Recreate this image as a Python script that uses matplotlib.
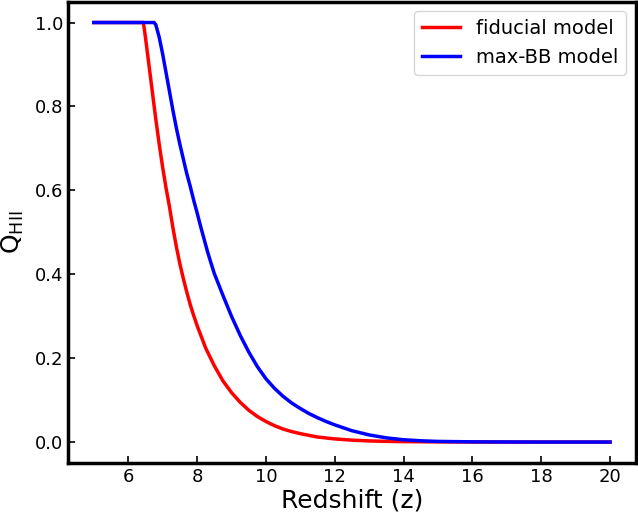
import matplotlib
matplotlib.use("Agg")
import matplotlib.pyplot as plt

# Ionized fraction Q_HII vs redshift for two reionization models
z_fid = [5.0, 6.0, 6.44, 6.5, 6.6, 6.7, 6.8, 6.9, 7.0, 7.1, 7.2, 7.3, 7.4,
         7.5, 7.6, 7.7, 7.8, 7.9, 8.0, 8.25, 8.5, 8.75, 9.0, 9.25, 9.5,
         9.75, 10.0, 10.25, 10.5, 10.75, 11.0, 11.5, 12.0, 12.5, 13.0, 13.5,
         14.0, 15.0, 16.0, 17.0, 20.0]
q_fid = [1.0, 1.0, 1.0, 0.965, 0.90, 0.835, 0.77, 0.71, 0.655, 0.605, 0.56,
         0.51, 0.465, 0.425, 0.39, 0.358, 0.328, 0.302, 0.278, 0.224, 0.182,
         0.146, 0.118, 0.095, 0.076, 0.061, 0.049, 0.039, 0.031, 0.025,
         0.020, 0.012, 0.0075, 0.0045, 0.0027, 0.0016, 0.001, 0.0004, 0.0001,
         0.0, 0.0]

z_maxbb = [5.0, 6.0, 6.75, 6.8, 6.9, 7.0, 7.1, 7.2, 7.3, 7.4, 7.5, 7.6, 7.7,
           7.8, 7.9, 8.0, 8.1, 8.2, 8.3, 8.4, 8.5, 8.75, 9.0, 9.25, 9.5,
           9.75, 10.0, 10.25, 10.5, 10.75, 11.0, 11.25, 11.5, 11.75, 12.0,
           12.25, 12.5, 13.0, 13.5, 14.0, 14.5, 15.0, 16.0, 17.0, 18.0, 20.0]
q_maxbb = [1.0, 1.0, 1.0, 0.995, 0.965, 0.925, 0.88, 0.835, 0.79, 0.748,
           0.71, 0.675, 0.64, 0.61, 0.577, 0.547, 0.515, 0.485, 0.455, 0.428,
           0.402, 0.35, 0.30, 0.255, 0.215, 0.18, 0.151, 0.128, 0.109, 0.093,
           0.080, 0.068, 0.058, 0.049, 0.041, 0.034, 0.027, 0.017, 0.010,
           0.0055, 0.003, 0.0015, 0.0005, 0.0002, 0.0, 0.0]

fig = plt.figure(figsize=(6.38, 5.17), dpi=100)
ax = fig.add_axes([0.1066, 0.1044, 0.89, 0.8926])

ax.plot(z_fid, q_fid, color="red", lw=2.5, label="fiducial model")
ax.plot(z_maxbb, q_maxbb, color="blue", lw=2.5, label="max-BB model")

ax.set_xlabel("Redshift (z)", fontsize=18, labelpad=2)
ax.set_ylabel(r"$\rm Q_{HII}$", fontsize=18, labelpad=6)

ax.set_xticks([6, 8, 10, 12, 14, 16, 18, 20])
ax.set_yticks([0.0, 0.2, 0.4, 0.6, 0.8, 1.0])
ax.tick_params(direction="in", labelsize=13, length=5, width=1.2)
for s in ax.spines.values():
    s.set_linewidth(2.5)

ax.legend(loc="upper right", fontsize=14, handlelength=2.0)

fig.savefig("out.png", dpi=100)
